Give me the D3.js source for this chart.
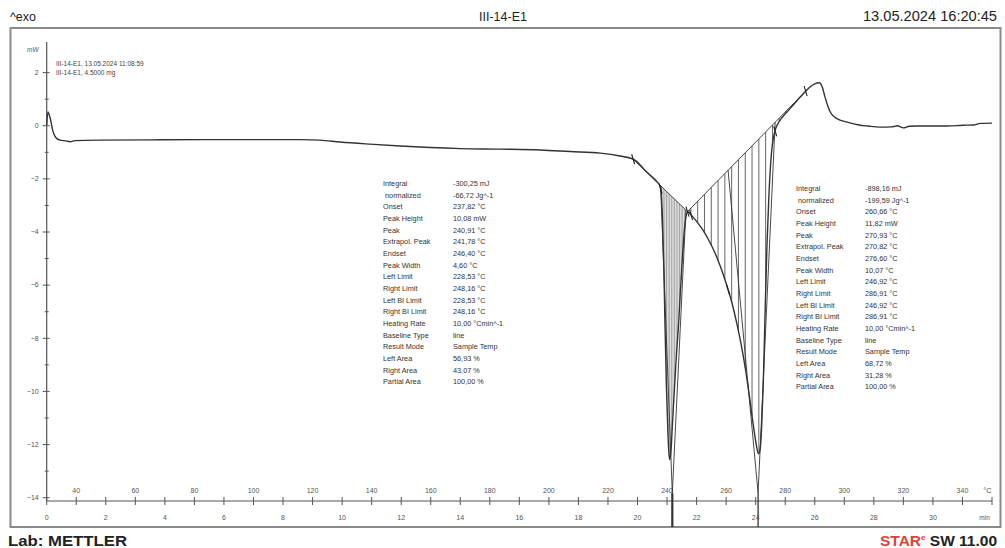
<!DOCTYPE html>
<html><head><meta charset="utf-8">
<script src="https://cdn.jsdelivr.net/npm/d3@7"></script>
<style>body{margin:0;background:#fff}svg{display:block}</style>
</head><body><svg id="c" width="1005" height="548"></svg>
<script>
// ---------- data ----------
const tempC = [30.0,30.4,31.1,32.1,33.2,34.5,36.5,37.9,39.6,48,65,82,99,116,122.5,129.3,139.4,149.6,159.8,169.9,183.5,197.1,207.2,217.4,224.1,228.9,232.6,235.0,236.7,237.4,237.9,238.4,238.9,239.3,239.8,240.3,240.6,240.9,241.3,241.8,242.5,243.2,243.9,244.6,245.3,245.9,246.4,246.9,248.5,250,252,254,256,258,260,262,263.5,265,266.5,268,269.2,270.1,270.9,271.5,272,272.6,273.2,273.8,274.5,275.3,276.2,277.5,279,281,283,285,286.9,288.5,290,291.5,292.5,293.5,294.5,295.5,297.5,301,305,308,312,316,318,320,322,325,330,335,340,344,346,350];
const heatFlow = [0.0,0.5,0.3,-0.22,-0.48,-0.56,-0.59,-0.62,-0.58,-0.56,-0.55,-0.54,-0.54,-0.54,-0.56,-0.63,-0.71,-0.78,-0.84,-0.88,-0.90,-0.93,-0.99,-1.05,-1.16,-1.29,-1.70,-1.95,-2.14,-2.24,-2.42,-3.4,-5.3,-7.5,-9.9,-11.6,-12.3,-12.59,-12.3,-11.3,-9.9,-8.6,-7.5,-6.1,-4.8,-3.9,-3.45,-3.25,-3.42,-3.62,-3.92,-4.3,-4.75,-5.3,-5.95,-6.7,-7.4,-8.2,-9.15,-10.3,-11.3,-11.95,-12.37,-12.2,-11.4,-9.6,-7.0,-4.6,-2.6,-1.1,-0.35,0.05,0.3,0.55,0.8,1.05,1.28,1.45,1.56,1.6,1.45,1.05,0.7,0.45,0.25,0.12,0.01,-0.03,-0.07,-0.06,-0.02,-0.1,-0.04,-0.03,-0.03,-0.03,0.0,0.01,0.07,0.08];

const heatingRate = 10;      // °C/min
const startTemp = 30;        // °C at 0 min
const timeLabels = [0,2,4,6,8,10,12,14,16,18,20,22,24,26,28,30];
const tempLabels = [40,60,80,100,120,140,160,180,200,220,240,260,280,300,320,340];
const minuteTicks = d3.range(0,33,1);
const yTicks = d3.range(-14,3,1);

// peak evaluation results
const peakLeftLimit  = [228.53, 246.92];
const peakRightLimit = [248.16, 286.91];
const peakOnset      = [237.82, 260.66];
const peakEndset     = [246.40, 276.60];
const peakExtrapol   = [241.78, 270.82];
const hatchStep      = [0.55, 2.3];

const boxLabels = ["Integral"," normalized","Onset","Peak Height","Peak","Extrapol. Peak","Endset","Peak Width","Left Limit","Right Limit","Left BI Limit","Right BI Limit","Heating Rate","Baseline Type","Result Mode","Left Area","Right Area","Partial Area"];
const box1Values = ["-300,25 mJ","-66,72 Jg^-1","237,82 °C","10,08 mW","240,91 °C","241,78 °C","246,40 °C","4,60 °C","228,53 °C","248,16 °C","228,53 °C","248,16 °C","10,00 °Cmin^-1","line","Sample Temp","56,93 %","43,07 %","100,00 %"];
const box2Values = ["-898,16 mJ","-199,59 Jg^-1","260,66 °C","11,82 mW","270,93 °C","270,82 °C","276,60 °C","10,07 °C","246,92 °C","286,91 °C","246,92 °C","286,91 °C","10,00 °Cmin^-1","line","Sample Temp","68,72 %","31,28 %","100,00 %"];
const legendLines = ["III-14-E1, 13.05.2024 11:08:59","III-14-E1, 4.5000 mg"];

// ---------- drawing ----------
const svg = d3.select("#c");
const FONT = "Liberation Sans, Arial, sans-serif";
svg.append("rect").attr("width",1005).attr("height",548).attr("fill","#fff");

// header
svg.append("text").attr("x",10).attr("y",21).text("^exo")
  .attr("font-family",FONT).attr("font-size",12.5).attr("fill","#222");
svg.append("text").attr("x",503).attr("y",21).attr("text-anchor","middle").text("III-14-E1")
  .attr("font-family",FONT).attr("font-size",12.5).attr("fill","#222");
svg.append("text").attr("x",997).attr("y",21).attr("text-anchor","end").text("13.05.2024 16:20:45")
  .attr("font-family",FONT).attr("font-size",14).attr("fill","#222")
  .attr("textLength",134).attr("lengthAdjust","spacingAndGlyphs");

// frame
svg.append("rect").attr("x",10.5).attr("y",28).attr("width",990).attr("height",499)
  .attr("fill","none").attr("stroke","#8a8a8a").attr("stroke-width",2);

// footer
svg.append("text").attr("x",8).attr("y",546).text("Lab: METTLER")
  .attr("font-family",FONT).attr("font-size",15).attr("font-weight","bold").attr("fill","#222")
  .attr("textLength",119).attr("lengthAdjust","spacingAndGlyphs");
const star = svg.append("text").attr("x",997).attr("y",546).attr("text-anchor","end")
  .attr("font-family",FONT).attr("font-size",15.5).attr("font-weight","bold");
star.append("tspan").attr("fill","#d8453c").text("STAR");
star.append("tspan").attr("fill","#d8453c").attr("font-size",8).attr("dy",-6).text("e");
star.append("tspan").attr("fill","#222").attr("dy",6).text(" SW 11.00");

// scales
const xMin = d3.scaleLinear().domain([0,32]).range([46.7,992]);
const tToMin = T => (T - startTemp) / heatingRate;
const xT = T => xMin(tToMin(T));
const y = d3.scaleLinear().domain([-14,2]).range([497.2,72.1]);
const axisY = 501;

// y axis
const gy = svg.append("g").attr("transform",`translate(${xMin(0)},0)`);
gy.call(d3.axisLeft(y).tickValues(yTicks).tickSize(3).tickPadding(5)
  .tickFormat(d => d % 2 === 0 ? d3.format("d")(d) : ""));
gy.select(".domain").remove();
gy.selectAll(".tick line").attr("x1",d => d%2===0?3:2).attr("x2",d => d%2===0?-4:-2).attr("stroke","#555");
gy.selectAll(".tick text").attr("font-family",FONT).attr("font-size",7).attr("fill","#555");
svg.append("line").attr("x1",xMin(0)).attr("x2",xMin(0)).attr("y1",42).attr("y2",axisY)
  .attr("stroke","#555").attr("stroke-width",1.2);
svg.append("text").attr("x",27).attr("y",52).text("mW")
  .attr("font-family",FONT).attr("font-size",6.5).attr("font-style","italic").attr("fill","#555");

// x axis
svg.append("line").attr("x1",xMin(0)).attr("x2",xMin(32)).attr("y1",axisY).attr("y2",axisY)
  .attr("stroke","#555").attr("stroke-width",1.2);
svg.append("g").selectAll("line").data(minuteTicks).join("line")
  .attr("x1",d=>xMin(d)).attr("x2",d=>xMin(d)).attr("y1",axisY-4).attr("y2",axisY+4)
  .attr("stroke","#555");
svg.append("g").selectAll("text").data(tempLabels).join("text")
  .attr("x",d=>xT(d)).attr("y",axisY-8).attr("text-anchor","middle").text(d=>d)
  .attr("font-family",FONT).attr("font-size",7).attr("fill","#555");
svg.append("g").selectAll("text").data(timeLabels).join("text")
  .attr("x",d=>xMin(d)).attr("y",axisY+19).attr("text-anchor","middle").text(d=>d)
  .attr("font-family",FONT).attr("font-size",7).attr("fill","#555");
svg.append("text").attr("x",xMin(31.85)).attr("y",axisY-8).attr("text-anchor","middle").text("°C")
  .attr("font-family",FONT).attr("font-size",7.5).attr("fill","#555");
svg.append("text").attr("x",xMin(31.75)).attr("y",axisY+19).attr("text-anchor","middle").text("min")
  .attr("font-family",FONT).attr("font-size",6.5).attr("fill","#555");

// legend
svg.append("g").selectAll("text").data(legendLines).join("text")
  .attr("x",56).attr("y",(d,i)=>66+i*9).text(d=>d)
  .attr("font-family",FONT).attr("font-size",6.5).attr("fill","#444");

// helpers
const pts = tempC.map((T,i)=>({T, v: heatFlow[i]}));
const bis = d3.bisector(d=>d.T).left;
function interp(T){
  let i = bis(pts, T);
  if (i<=0) return pts[0].v;
  if (i>=pts.length) return pts[pts.length-1].v;
  const a = pts[i-1], b = pts[i];
  return a.v + (b.v-a.v)*(T-a.T)/(b.T-a.T);
}
function baseline(k, T){
  const T0 = peakLeftLimit[k], T1 = peakRightLimit[k];
  const v0 = interp(T0), v1 = interp(T1);
  return v0 + (v1-v0)*(T-T0)/(T1-T0);
}

// hatch areas
[0,1].forEach(k=>{
  const T0 = peakLeftLimit[k], T1 = peakRightLimit[k];
  const g = svg.append("g");
  const Ts = d3.range(T0 + hatchStep[k]/2, T1, hatchStep[k]).filter(T => interp(T) < baseline(k,T));
  g.selectAll("line").data(Ts).join("line")
    .attr("x1",d=>xT(d)).attr("x2",d=>xT(d))
    .attr("y1",d=>y(baseline(k,d))).attr("y2",d=>y(interp(d)))
    .attr("stroke",k===0?"#8a8a8a":"#555").attr("stroke-width",k===0?0.8:0.9);
  g.append("line").attr("x1",xT(T0)).attr("x2",xT(T1))
    .attr("y1",y(interp(T0))).attr("y2",y(interp(T1)))
    .attr("stroke","#444").attr("stroke-width",1);
});

// tangents (onset / endset to extrapolated peak) and peak markers
[0,1].forEach(k=>{
  const apex = -13.85;
  const g = svg.append("g");
  [peakOnset[k], peakEndset[k]].forEach(Tp=>{
    g.append("line").attr("x1",xT(Tp)).attr("y1",y(baseline(k,Tp)))
      .attr("x2",xT(peakExtrapol[k])).attr("y2",y(apex))
      .attr("stroke","#333").attr("stroke-width",0.9);
  });
  g.append("line").attr("x1",xT(peakExtrapol[k])).attr("x2",xT(peakExtrapol[k]))
    .attr("y1",y(apex)).attr("y2",527)
    .attr("stroke","#333").attr("stroke-width",k===0?2.2:1.3);
});

// curve
svg.append("path").datum(pts)
  .attr("d", d3.line().x(d=>xT(d.T)).y(d=>y(d.v)).curve(d3.curveMonotoneX))
  .attr("fill","none").attr("stroke","#333").attr("stroke-width",1.4);

// limit / onset markers
const markT = [peakLeftLimit[0], peakOnset[0], peakLeftLimit[1], peakRightLimit[0], peakOnset[1], peakEndset[1], peakRightLimit[1]];
svg.append("g").selectAll("line").data(markT).join("line")
  .attr("x1",d=>xT(d)-1.5).attr("x2",d=>xT(d)+1.5)
  .attr("y1",d=>y(interp(d))-5).attr("y2",d=>y(interp(d))+5)
  .attr("stroke","#222").attr("stroke-width",1.1);

// result boxes
function box(x0, xv, y0, vals){
  const g = svg.append("g").attr("font-family",FONT).attr("font-size",7.3).attr("fill","#333");
  g.selectAll("text.l").data(boxLabels).join("text").attr("class","l")
    .attr("x",x0).attr("y",(d,i)=>y0+i*11.67).text(d=>d).attr("xml:space","preserve");
  g.selectAll("text.v").data(vals).join("text").attr("class","v")
    .attr("x",xv).attr("y",(d,i)=>y0+i*11.67).text(d=>d);
}
box(383, 453, 186, box1Values);
box(796, 865, 191, box2Values);
</script></body></html>
